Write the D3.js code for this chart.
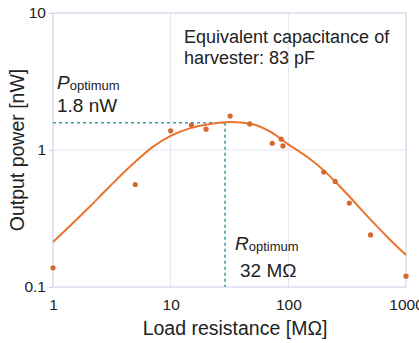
<html>
<head>
<script src="https://d3js.org/d3.v7.min.js"></script>
<style>
    body { margin: 0; background: #fff; }
    svg text { font-family: "Liberation Sans", Arial, Helvetica, sans-serif; fill: #222; }
    .axis .domain { stroke: none; }
    .axis line { stroke: #c9c9ea; }
</style>
</head>
<body>
<svg id="chart" width="419" height="343"></svg>
<script>
    // measured points: load resistance [MOhm], output power [nW]
    const resistance = [1, 5, 10, 15, 20, 32, 47, 73, 87, 90, 200, 250, 330, 500, 1000];
    const power      = [0.138, 0.56, 1.38, 1.52, 1.42, 1.77, 1.55, 1.12, 1.2, 1.07, 0.69, 0.59, 0.41, 0.24, 0.12];

    // fitted curve
    const fitR = [1, 2, 3, 5, 7, 10, 15, 20, 32, 50, 70, 100, 150, 200, 300, 500, 700, 1000];
    const fitP = [0.213, 0.377, 0.537, 0.82, 1.05, 1.27, 1.45, 1.53, 1.6, 1.54, 1.36, 1.1, 0.87, 0.71, 0.5, 0.31, 0.23, 0.171];

    const xTicks = [1, 10, 100, 1000];
    const yTicks = [0.1, 1, 10];
    const rOpt = 29;
    const pOpt = 1.58;

    const svg = d3.select("svg#chart");
    const margin = {top: 13, right: 13, bottom: 56, left: 53};
    const width = +svg.attr("width");
    const height = +svg.attr("height");

    const xScale = d3.scaleLog().domain([1, 1000]).range([margin.left, width - margin.right]);
    const yScale = d3.scaleLog().domain([0.1, 10]).range([height - margin.bottom, margin.top]);

    // gridlines
    svg.append("g").selectAll("line.vgrid").data([10, 100])
        .join("line").attr("class", "vgrid")
        .attr("x1", d => xScale(d)).attr("x2", d => xScale(d))
        .attr("y1", margin.top).attr("y2", height - margin.bottom)
        .attr("stroke", "#e3e3f2").attr("stroke-width", 1);
    svg.append("g").selectAll("line.hgrid").data([1])
        .join("line").attr("class", "hgrid")
        .attr("x1", margin.left).attr("x2", width - margin.right)
        .attr("y1", d => yScale(d)).attr("y2", d => yScale(d))
        .attr("stroke", "#e3e3f2").attr("stroke-width", 1);

    // frame
    svg.append("rect")
        .attr("x", margin.left).attr("y", margin.top)
        .attr("width", width - margin.left - margin.right)
        .attr("height", height - margin.top - margin.bottom)
        .attr("fill", "none").attr("stroke", "#cacaec").attr("stroke-width", 1);

    // axes
    let leftAxis = d3.axisLeft(yScale).tickValues(yTicks).tickFormat(d3.format("")).tickSize(4).tickPadding(3);
    svg.append("g").attr("class", "axis")
        .attr("transform", `translate(${margin.left},0)`)
        .call(leftAxis)
        .selectAll("text").style("font-size", "15.5px").attr("fill", "#222");

    let bottomAxis = d3.axisBottom(xScale).tickValues(xTicks).tickFormat(d3.format("")).tickSize(0).tickPadding(12);
    svg.append("g").attr("class", "axis")
        .attr("transform", `translate(0,${height - margin.bottom})`)
        .call(bottomAxis)
        .selectAll("text").style("font-size", "15.5px").attr("fill", "#222");

    // optimum guides
    const guideColor = "#3b9fa6";
    svg.append("line")
        .attr("x1", margin.left).attr("x2", xScale(rOpt))
        .attr("y1", yScale(pOpt)).attr("y2", yScale(pOpt))
        .attr("stroke", guideColor).attr("stroke-width", 1.6).attr("stroke-dasharray", "3,3");
    svg.append("line")
        .attr("x1", xScale(rOpt)).attr("x2", xScale(rOpt))
        .attr("y1", yScale(pOpt)).attr("y2", height - margin.bottom)
        .attr("stroke", guideColor).attr("stroke-width", 1.6).attr("stroke-dasharray", "3,3");

    // fitted curve
    const fitData = fitR.map((r, i) => ({r: r, p: fitP[i]}));
    const line = d3.line()
        .x(d => xScale(d.r))
        .y(d => yScale(d.p))
        .curve(d3.curveMonotoneX);
    svg.append("path").datum(fitData)
        .attr("d", line)
        .attr("fill", "none").attr("stroke", "#ea742e").attr("stroke-width", 2);

    // measured points
    const pts = resistance.map((r, i) => ({r: r, p: power[i]}));
    svg.append("g").selectAll("circle.point").data(pts)
        .join("circle").attr("class", "point")
        .attr("cx", d => xScale(d.r))
        .attr("cy", d => yScale(d.p))
        .attr("r", 2.6)
        .attr("fill", "#d5692f");

    // annotations
    const note = svg.append("text").attr("x", 184).attr("y", 43).style("font-size", "18px");
    note.append("tspan").attr("x", 184).text("Equivalent capacitance of");
    note.append("tspan").attr("x", 184).attr("dy", 21).text("harvester: 83 pF");

    const pLabel = svg.append("text").attr("x", 57).attr("y", 89).style("font-size", "19px");
    pLabel.append("tspan").style("font-style", "italic").text("P");
    pLabel.append("tspan").style("font-size", "13px").attr("dy", 1).text("optimum");
    svg.append("text").attr("x", 57).attr("y", 112).style("font-size", "19px").text("1.8 nW");

    const rLabel = svg.append("text").attr("x", 235).attr("y", 250).style("font-size", "19px");
    rLabel.append("tspan").style("font-style", "italic").text("R");
    rLabel.append("tspan").style("font-size", "13px").attr("dy", 1).text("optimum");
    svg.append("text").attr("x", 240).attr("y", 277).style("font-size", "19px").text("32 M\u03A9");

    // axis titles
    svg.append("text")
        .attr("x", 235).attr("y", 335)
        .style("text-anchor", "middle").style("font-size", "19.5px")
        .text("Load resistance [M\u03A9]");
    svg.append("text")
        .attr("transform", `translate(24, ${yScale(1)}) rotate(-90)`)
        .style("text-anchor", "middle").style("font-size", "19.5px")
        .text("Output power [nW]");
</script>
</body>
</html>
